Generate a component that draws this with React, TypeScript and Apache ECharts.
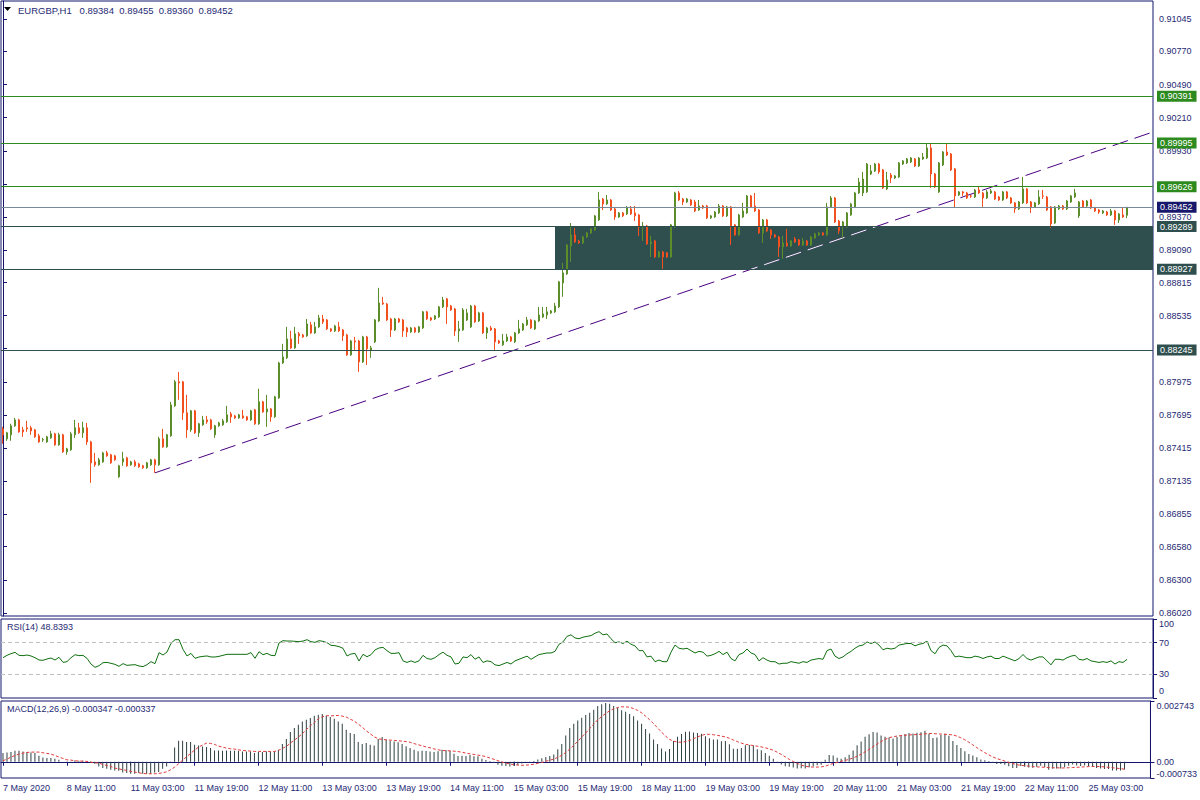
import React, { useEffect, useRef } from 'react';
import * as echarts from 'echarts';

type Bar = [number, number, number, number]; // open, high, low, close

const may07: Bar[] = [
  [0.87577, 0.87594, 0.87451, 0.87527], [0.87493, 0.87552, 0.87476, 0.87544], [0.87527, 0.8762, 0.87476, 0.87603],
  [0.87603, 0.8767, 0.87594, 0.87653], [0.87653, 0.87662, 0.87544, 0.87552],
];
const may08: Bar[] = [
  [0.87569, 0.87594, 0.8751, 0.87552], [0.87586, 0.87645, 0.87552, 0.87577], [0.87586, 0.87603, 0.87527, 0.8756],
  [0.87569, 0.87577, 0.87501, 0.8751], [0.87518, 0.87535, 0.87459, 0.87467], [0.87484, 0.87501, 0.87467, 0.87486],
  [0.87467, 0.87518, 0.87459, 0.8751], [0.87501, 0.8756, 0.87493, 0.87535], [0.87535, 0.87544, 0.87434, 0.87442],
  [0.87442, 0.87544, 0.87434, 0.87527], [0.87527, 0.87535, 0.87374, 0.87383], [0.87383, 0.87417, 0.87358, 0.87408],
  [0.874, 0.87552, 0.87391, 0.87535], [0.87527, 0.87653, 0.87501, 0.87586], [0.87586, 0.87628, 0.87535, 0.87544],
  [0.87544, 0.87637, 0.87501, 0.87586], [0.87586, 0.87628, 0.87442, 0.87467], [0.87467, 0.87476, 0.87121, 0.8729],
  [0.87298, 0.87374, 0.87256, 0.87273], [0.87273, 0.87332, 0.87265, 0.87315], [0.87298, 0.87383, 0.8729, 0.87374],
  [0.87374, 0.87391, 0.87341, 0.87349], [0.87358, 0.87366, 0.87281, 0.8729], [0.87349, 0.87358, 0.87307, 0.87315],
];
const may11: Bar[] = [
  [0.87172, 0.87273, 0.87163, 0.87265], [0.87298, 0.87383, 0.87265, 0.87324], [0.87332, 0.87341, 0.87256, 0.87265],
  [0.87273, 0.87307, 0.87265, 0.87298], [0.87298, 0.87315, 0.87256, 0.87265], [0.87281, 0.8729, 0.87248, 0.87256],
  [0.87265, 0.87273, 0.87239, 0.87248], [0.87248, 0.87298, 0.87239, 0.8729], [0.87273, 0.87324, 0.87265, 0.87315],
  [0.87315, 0.87324, 0.87205, 0.87273], [0.87273, 0.8751, 0.87265, 0.87493], [0.87493, 0.87577, 0.87417, 0.87425],
  [0.87425, 0.87535, 0.87417, 0.87527], [0.87518, 0.87806, 0.8751, 0.8778], [0.87772, 0.87992, 0.87763, 0.87975],
  [0.87975, 0.88059, 0.87823, 0.87966], [0.87975, 0.87983, 0.87653, 0.87713], [0.87713, 0.87865, 0.87501, 0.87569],
  [0.87569, 0.87738, 0.87552, 0.8773], [0.8773, 0.87738, 0.87535, 0.87544], [0.87544, 0.87628, 0.8751, 0.8762],
  [0.87611, 0.87687, 0.87603, 0.87653], [0.87653, 0.87687, 0.8762, 0.87637], [0.87653, 0.87662, 0.87569, 0.87577],
];
const may12: Bar[] = [
  [0.87527, 0.87611, 0.87501, 0.87603], [0.87603, 0.87637, 0.87594, 0.87628], [0.87611, 0.87662, 0.87603, 0.87645],
  [0.87637, 0.87772, 0.87628, 0.87696], [0.87704, 0.87721, 0.87628, 0.87679], [0.87687, 0.87696, 0.87662, 0.8767],
  [0.8767, 0.87704, 0.87662, 0.87696], [0.87687, 0.87738, 0.87662, 0.8767], [0.87679, 0.87687, 0.87645, 0.87653],
  [0.87653, 0.87738, 0.87645, 0.8773], [0.87738, 0.87746, 0.87611, 0.8762], [0.8762, 0.87916, 0.87611, 0.87806],
  [0.87806, 0.87814, 0.87713, 0.87721], [0.87721, 0.87865, 0.87594, 0.87746], [0.87746, 0.87755, 0.87637, 0.87679],
  [0.87679, 0.87856, 0.8767, 0.87848], [0.87839, 0.88144, 0.87831, 0.88135], [0.88135, 0.88296, 0.88127, 0.88186],
  [0.88178, 0.8844, 0.88169, 0.88338], [0.88338, 0.88406, 0.88254, 0.88262], [0.88262, 0.8844, 0.88254, 0.88381],
  [0.88381, 0.88397, 0.88296, 0.88364], [0.88372, 0.88381, 0.88347, 0.88355], [0.88364, 0.88507, 0.88355, 0.88465],
];
const may13: Bar[] = [
  [0.88457, 0.88482, 0.88381, 0.88389], [0.88389, 0.88482, 0.88381, 0.8844], [0.8844, 0.88541, 0.88431, 0.88516],
  [0.88507, 0.88541, 0.88465, 0.88482], [0.88499, 0.88507, 0.88414, 0.88423], [0.88423, 0.88431, 0.88397, 0.88406],
  [0.88406, 0.88457, 0.88397, 0.88448], [0.8844, 0.88482, 0.88397, 0.88406], [0.88414, 0.88423, 0.88321, 0.88364],
  [0.88372, 0.88381, 0.88195, 0.88203], [0.88203, 0.8833, 0.88195, 0.88321], [0.88321, 0.88355, 0.88245, 0.88313],
  [0.88321, 0.8833, 0.88059, 0.88144], [0.88144, 0.88364, 0.88135, 0.88355], [0.88355, 0.88364, 0.88118, 0.88254],
  [0.88245, 0.88279, 0.88178, 0.88262], [0.88313, 0.88507, 0.88304, 0.88499], [0.8849, 0.8877, 0.88482, 0.88643],
  [0.88643, 0.88694, 0.88626, 0.88634], [0.88634, 0.88643, 0.8849, 0.88499], [0.88507, 0.88516, 0.88355, 0.88414],
  [0.88414, 0.88516, 0.88406, 0.88507], [0.88507, 0.88516, 0.88474, 0.88482], [0.88499, 0.88507, 0.88355, 0.88406],
];
const may14: Bar[] = [
  [0.88431, 0.8844, 0.88355, 0.88397], [0.88397, 0.8844, 0.88389, 0.88431], [0.88431, 0.8844, 0.88389, 0.88397],
  [0.88397, 0.88448, 0.88389, 0.8844], [0.88431, 0.88575, 0.88423, 0.88567], [0.88567, 0.88575, 0.88499, 0.88507],
  [0.88516, 0.88524, 0.8849, 0.88499], [0.88507, 0.88541, 0.88499, 0.88533], [0.88524, 0.88617, 0.88516, 0.88609],
  [0.88609, 0.88694, 0.886, 0.88668], [0.88677, 0.88685, 0.88465, 0.88609], [0.88617, 0.88626, 0.88575, 0.88583],
  [0.88592, 0.886, 0.88364, 0.88406], [0.88406, 0.8849, 0.88313, 0.88423], [0.88414, 0.886, 0.88406, 0.88583],
  [0.88499, 0.88592, 0.8849, 0.88558], [0.8844, 0.88626, 0.88431, 0.88617], [0.88617, 0.88626, 0.88474, 0.88482],
  [0.8849, 0.88567, 0.88482, 0.88558], [0.88558, 0.88567, 0.88381, 0.88389], [0.88389, 0.8844, 0.88338, 0.88431],
  [0.88431, 0.88448, 0.88406, 0.88414], [0.88423, 0.88431, 0.88245, 0.88313], [0.88321, 0.8833, 0.88296, 0.88304],
];
const may15: Bar[] = [
  [0.88288, 0.88381, 0.88279, 0.88321], [0.88321, 0.88381, 0.88313, 0.88355], [0.88355, 0.88364, 0.88313, 0.88321],
  [0.88313, 0.88397, 0.88304, 0.88389], [0.88389, 0.88499, 0.88381, 0.88423], [0.88414, 0.88474, 0.88406, 0.88465],
  [0.88457, 0.88524, 0.88448, 0.88499], [0.88499, 0.88507, 0.88423, 0.88431], [0.88423, 0.88499, 0.88414, 0.8849],
  [0.8849, 0.88609, 0.88482, 0.88541], [0.88524, 0.88609, 0.88516, 0.8855], [0.88541, 0.88609, 0.88507, 0.88567],
  [0.88558, 0.88583, 0.8855, 0.88575], [0.88567, 0.88643, 0.88558, 0.88617], [0.88609, 0.88829, 0.886, 0.88821],
  [0.88812, 0.88981, 0.88694, 0.88897], [0.88888, 0.89142, 0.8888, 0.89133], [0.89125, 0.89319, 0.8899, 0.89218],
  [0.89218, 0.89277, 0.8915, 0.89159], [0.89167, 0.89176, 0.89142, 0.8915], [0.8915, 0.8921, 0.89142, 0.89201],
  [0.89201, 0.89243, 0.89193, 0.89235], [0.89235, 0.89277, 0.89226, 0.89269], [0.8926, 0.89387, 0.89252, 0.89379],
];
const may18: Bar[] = [
  [0.89345, 0.89582, 0.89336, 0.89514], [0.89522, 0.89531, 0.89429, 0.8948], [0.8948, 0.89556, 0.89472, 0.89514],
  [0.89514, 0.89522, 0.89421, 0.89429], [0.89438, 0.89446, 0.89345, 0.8937], [0.8937, 0.89412, 0.89362, 0.89404],
  [0.89404, 0.89412, 0.8937, 0.89379], [0.89396, 0.89463, 0.89387, 0.89446], [0.89438, 0.89463, 0.89387, 0.89396],
  [0.89404, 0.89463, 0.89336, 0.89379], [0.89387, 0.89396, 0.8921, 0.89286], [0.89286, 0.89328, 0.89167, 0.89294],
  [0.89294, 0.89303, 0.89133, 0.89142], [0.89142, 0.8921, 0.89032, 0.89159], [0.89167, 0.89176, 0.89024, 0.89032],
  [0.89032, 0.89083, 0.89024, 0.89074], [0.89074, 0.89083, 0.88931, 0.89032], [0.89066, 0.89074, 0.89024, 0.89032],
  [0.89032, 0.89311, 0.89024, 0.89303], [0.89286, 0.89582, 0.89277, 0.89573], [0.89573, 0.8959, 0.89505, 0.89514],
  [0.89522, 0.89531, 0.89472, 0.89497], [0.89497, 0.89531, 0.89489, 0.89522], [0.89514, 0.89522, 0.89463, 0.89472],
];
const may19: Bar[] = [
  [0.89497, 0.89514, 0.89412, 0.89421], [0.89429, 0.89514, 0.89421, 0.89463], [0.89463, 0.89472, 0.89438, 0.89446],
  [0.89463, 0.89472, 0.89353, 0.89362], [0.89362, 0.89387, 0.89353, 0.89379], [0.8937, 0.89421, 0.89362, 0.89412],
  [0.89404, 0.8948, 0.89396, 0.89463], [0.89463, 0.89472, 0.8937, 0.89379], [0.89379, 0.89463, 0.8937, 0.89455],
  [0.89455, 0.89463, 0.89133, 0.89294], [0.89303, 0.89311, 0.8921, 0.89218], [0.89218, 0.89396, 0.8921, 0.89387],
  [0.8937, 0.89489, 0.89362, 0.89421], [0.89404, 0.89556, 0.89396, 0.89548], [0.89548, 0.89556, 0.89446, 0.89455],
  [0.89463, 0.89573, 0.89412, 0.89421], [0.89429, 0.89438, 0.89226, 0.89235], [0.89235, 0.89353, 0.8915, 0.89345],
  [0.89345, 0.89353, 0.89243, 0.89252], [0.8926, 0.89269, 0.89184, 0.89218], [0.89218, 0.89226, 0.89193, 0.89201],
  [0.89201, 0.8921, 0.89032, 0.89117], [0.89117, 0.8921, 0.89015, 0.8915], [0.8915, 0.89269, 0.89117, 0.89125],
];
const may20: Bar[] = [
  [0.89125, 0.89176, 0.89117, 0.89167], [0.89184, 0.89201, 0.8915, 0.89159], [0.89176, 0.89184, 0.89125, 0.89133],
  [0.89133, 0.89193, 0.89125, 0.89167], [0.89167, 0.89176, 0.89125, 0.89133], [0.89133, 0.8921, 0.89125, 0.89201],
  [0.89193, 0.89235, 0.89184, 0.89226], [0.89218, 0.89243, 0.8921, 0.89235], [0.89235, 0.89243, 0.8921, 0.89218],
  [0.89218, 0.89489, 0.8921, 0.89455], [0.89455, 0.89548, 0.89446, 0.89531], [0.89531, 0.89539, 0.89319, 0.89328],
  [0.89336, 0.89345, 0.89226, 0.89252], [0.89286, 0.89336, 0.89193, 0.89328], [0.89286, 0.89412, 0.89277, 0.89404],
  [0.89387, 0.89489, 0.89379, 0.8948], [0.89455, 0.89582, 0.89446, 0.89573], [0.89573, 0.897, 0.89565, 0.89666],
  [0.89573, 0.89751, 0.89548, 0.89691], [0.89582, 0.89827, 0.89573, 0.89818], [0.89734, 0.8981, 0.89725, 0.89759],
  [0.89759, 0.89827, 0.89751, 0.89818], [0.89818, 0.89827, 0.89734, 0.89751], [0.89768, 0.89776, 0.89607, 0.89615],
];
const may21: Bar[] = [
  [0.89607, 0.89751, 0.89598, 0.89683], [0.89725, 0.89742, 0.89658, 0.897], [0.897, 0.89725, 0.89691, 0.89717],
  [0.89708, 0.89835, 0.897, 0.89827], [0.89818, 0.89852, 0.8981, 0.89844], [0.89827, 0.89869, 0.89818, 0.89861],
  [0.89835, 0.89877, 0.89827, 0.89869], [0.89861, 0.89869, 0.89793, 0.89801], [0.89801, 0.89877, 0.89793, 0.89869],
  [0.89861, 0.89911, 0.89852, 0.89877], [0.89869, 0.89996, 0.89861, 0.89954], [0.89954, 0.89996, 0.89615, 0.89734],
  [0.89734, 0.89742, 0.89615, 0.89624], [0.89582, 0.89835, 0.89573, 0.89827], [0.8981, 0.89928, 0.89801, 0.8992],
  [0.8992, 0.89996, 0.89886, 0.89894], [0.89903, 0.89911, 0.89759, 0.89768], [0.89776, 0.89784, 0.89446, 0.89548],
  [0.89556, 0.8959, 0.89548, 0.89582], [0.89582, 0.8959, 0.89548, 0.89573], [0.89573, 0.89582, 0.89522, 0.89531],
  [0.89548, 0.89556, 0.89531, 0.89546], [0.89539, 0.89607, 0.89531, 0.89598], [0.89598, 0.89632, 0.89565, 0.89573],
];
const may22: Bar[] = [
  [0.89573, 0.89582, 0.89455, 0.89531], [0.89531, 0.89598, 0.89522, 0.89582], [0.89573, 0.89607, 0.89565, 0.8959],
  [0.89582, 0.8959, 0.89514, 0.89522], [0.89539, 0.89548, 0.89505, 0.89514], [0.89514, 0.8959, 0.89505, 0.89582],
  [0.89582, 0.8959, 0.89522, 0.89531], [0.89531, 0.89539, 0.8948, 0.89489], [0.89489, 0.89497, 0.89404, 0.89438],
  [0.89438, 0.89505, 0.89429, 0.89497], [0.89489, 0.89708, 0.8948, 0.89607], [0.89607, 0.89615, 0.8948, 0.89489],
  [0.89497, 0.89505, 0.89404, 0.89455], [0.89455, 0.89497, 0.89446, 0.89489], [0.8948, 0.89598, 0.89472, 0.89539],
  [0.89548, 0.89598, 0.89522, 0.89546], [0.89539, 0.89548, 0.89421, 0.89429], [0.89455, 0.89463, 0.89277, 0.89311],
  [0.89319, 0.89463, 0.89311, 0.89455], [0.89438, 0.89472, 0.89429, 0.89463], [0.89463, 0.89472, 0.89429, 0.89438],
  [0.89438, 0.89514, 0.89429, 0.89505], [0.89497, 0.89556, 0.89489, 0.89548], [0.89539, 0.89607, 0.89531, 0.89573],
];
const may25: Bar[] = [
  [0.89379, 0.89505, 0.89362, 0.89497], [0.89505, 0.89514, 0.89446, 0.89455], [0.89463, 0.89514, 0.89455, 0.89505],
  [0.89514, 0.89522, 0.89438, 0.89446], [0.89446, 0.89455, 0.89412, 0.89421], [0.89429, 0.89438, 0.89396, 0.89412],
  [0.89404, 0.89429, 0.89396, 0.89421], [0.89412, 0.89421, 0.89379, 0.89387], [0.89387, 0.89438, 0.89379, 0.89421],
  [0.89421, 0.89429, 0.89303, 0.89345], [0.89345, 0.89404, 0.89319, 0.89396], [0.89387, 0.89446, 0.89362, 0.8937],
  [0.89384, 0.89455, 0.8936, 0.89452],
];

const tradingDays = [
  { name: '7 May', firstHour: 19, bars: may07 },
  { name: '8 May', firstHour: 0, bars: may08 },
  { name: '11 May', firstHour: 0, bars: may11 },
  { name: '12 May', firstHour: 0, bars: may12 },
  { name: '13 May', firstHour: 0, bars: may13 },
  { name: '14 May', firstHour: 0, bars: may14 },
  { name: '15 May', firstHour: 0, bars: may15 },
  { name: '18 May', firstHour: 0, bars: may18 },
  { name: '19 May', firstHour: 0, bars: may19 },
  { name: '20 May', firstHour: 0, bars: may20 },
  { name: '21 May', firstHour: 0, bars: may21 },
  { name: '22 May', firstHour: 0, bars: may22 },
  { name: '25 May', firstHour: 0, bars: may25 },
];
const FIRST_LABEL = '7 May 2020';
const FUTURE_SLOTS = 6;
const LABEL_EVERY = 16;

const rsiValues: number[] = [
  51.0, 54.0, 56.1, 57.8, 54.0, 53.6, 54.4, 53.2, 51.0, 48.1,
  47.7, 49.4, 50.6, 48.1, 51.5, 45.1, 46.0, 51.0, 54.8, 53.6,
  54.0, 50.2, 43.0, 38.8, 40.9, 44.7, 45.1, 43.9, 42.6, 40.1,
  43.5, 41.3, 41.8, 42.2, 40.5, 39.7, 42.2, 46.0, 43.5, 57.4,
  54.4, 58.2, 69.2, 73.8, 73.8, 61.6, 53.2, 56.5, 50.2, 51.9,
  52.7, 53.2, 51.9, 51.9, 52.7, 54.0, 55.3, 55.3, 55.3, 55.3,
  55.3, 55.3, 57.4, 50.2, 58.6, 54.8, 56.5, 54.0, 53.6, 69.6,
  72.6, 72.1, 72.1, 71.7, 71.3, 72.1, 73.8, 71.3, 70.5, 72.6,
  71.7, 70.0, 66.7, 66.2, 65.0, 62.9, 53.2, 55.7, 56.5, 46.8,
  55.3, 52.3, 54.8, 60.8, 63.3, 64.1, 59.9, 56.5, 56.5, 57.4,
  47, 45, 47, 45, 47, 54, 50, 49, 51, 55,
  58, 54, 52, 43, 44, 52, 51, 55, 49, 52,
  45, 47, 46, 42, 41, 43, 45, 43, 47, 49,
  51, 53, 49, 52, 55, 56, 57, 57, 59, 68,
  71, 78, 80, 76, 75, 77, 78, 79, 82, 84,
  80, 81, 75, 70, 71, 69, 72, 68, 66, 60,
  60, 52, 53, 46, 48, 46, 46, 58, 67, 63,
  62, 63, 60, 57, 59, 58, 53, 54, 56, 59,
  55, 58, 50, 47, 55, 57, 62, 57, 55, 47,
  51, 48, 46, 46, 43, 44, 44, 46, 45, 44,
  46, 45, 48, 49, 50, 49, 60, 62, 53, 50,
  52, 56, 59, 63, 66, 67, 71, 69, 71, 67,
  61, 63, 62, 63, 67, 68, 69, 69, 66, 68,
  69, 72, 60, 56, 64, 67, 66, 60, 52, 53,
  52, 51, 51, 53, 52, 50, 52, 53, 50, 50,
  53, 51, 49, 47, 50, 55, 50, 48, 50, 52,
  52, 47, 42, 49, 49, 48, 51, 53, 54, 49,
  48, 50, 47, 46, 45, 46, 45, 47, 43, 46,
  45, 48.8393,
];

const macdValues: number[] = [
  0.000391, 0.000421, 0.000436, 0.000497, 0.000497, 0.000467, 0.000436, 0.000421, 0.000391, 0.000271,
  0.000196, 0.000166, 0.000166, 0.000135, 0.00009, 0.0, -0.00003, 0.000015, 0.00006, 0.000045,
  0.000045, 0.000015, -0.00003, -0.00009, -0.000211, -0.000286, -0.000316, -0.000361, -0.000391, -0.000406,
  -0.000482, -0.000512, -0.000542, -0.000542, -0.000512, -0.000542, -0.000542, -0.000542, -0.000482, -0.000467,
  -0.000316, -0.000211, -0.000015, 0.000647, 0.000948, 0.000948, 0.000888, 0.000888, 0.000768, 0.000737,
  0.000692, 0.000662, 0.000617, 0.000512, 0.000512, 0.000497, 0.000512, 0.000497, 0.000497, 0.000497,
  0.000467, 0.000467, 0.000467, 0.000391, 0.000436, 0.000436, 0.000467, 0.000467, 0.000467, 0.000542,
  0.000798, 0.001023, 0.001339, 0.00152, 0.001671, 0.001821, 0.001896, 0.001972, 0.002077, 0.002122,
  0.002152, 0.002077, 0.002017, 0.001941, 0.001821, 0.001716, 0.001445, 0.001294, 0.001249, 0.000888,
  0.000798, 0.000843, 0.000768, 0.000737, 0.001023, 0.001114, 0.000993, 0.000948, 0.000918, 0.00088,
  0.0008, 0.0007, 0.00062, 0.00054, 0.00048, 0.0005, 0.00049, 0.00046, 0.00044, 0.00048,
  0.00054, 0.00053, 0.0005, 0.00036, 0.00026, 0.00027, 0.00026, 0.00031, 0.00025, 0.00025,
  0.00014, 0.00008, 0.00004, -0.00006, -0.00014, -0.00018, -0.00019, -0.00021, -0.00018, -0.00013,
  -0.00008, -0.00002, -0.00001, 0.00003, 0.0001, 0.00016, 0.00022, 0.00026, 0.00033, 0.00056,
  0.0008, 0.00118, 0.00152, 0.00172, 0.00186, 0.00199, 0.00211, 0.00221, 0.00235, 0.00252,
  0.0026, 0.00265, 0.00262, 0.00252, 0.00243, 0.00233, 0.00226, 0.00216, 0.00205, 0.00186,
  0.00172, 0.00148, 0.00128, 0.00101, 0.0008, 0.0006, 0.00046, 0.00058, 0.00094, 0.00113,
  0.00125, 0.00135, 0.00137, 0.00132, 0.0013, 0.00126, 0.00115, 0.00106, 0.00101, 0.00101,
  0.00093, 0.00094, 0.00079, 0.00059, 0.00059, 0.00062, 0.00075, 0.00076, 0.00073, 0.00056,
  0.00052, 0.0004, 0.00027, 0.00014, -0.00003, -0.00012, -0.0002, -0.00023, -0.00026, -0.0003,
  -0.00029, -0.0003, -0.00025, -0.0002, -0.00016, -0.00014, 0.00009, 0.00031, 0.00028, 0.00018,
  0.00014, 0.0002, 0.00032, 0.00051, 0.00074, 0.00091, 0.00113, 0.00124, 0.00134, 0.00132,
  0.00118, 0.00113, 0.00109, 0.00105, 0.00112, 0.00119, 0.00125, 0.0013, 0.00128, 0.00131,
  0.00133, 0.0014, 0.00127, 0.00107, 0.0011, 0.00121, 0.00126, 0.00117, 0.00094, 0.00076,
  0.00062, 0.00047, 0.00035, 0.00028, 0.0002, 0.0001, 0.00007, 0.00003, -0.00004, -0.0001,
  -0.0001, -0.00014, -0.0002, -0.00028, -0.00028, -0.00019, -0.00022, -0.00026, -0.00027, -0.00022,
  -0.00018, -0.00024, -0.00036, -0.00032, -0.0003, -0.0003, -0.00025, -0.00018, -0.00012, -0.00017,
  -0.00019, -0.00017, -0.0002, -0.00024, -0.00028, -0.0003, -0.00033, -0.00033, -0.0004, -0.00039,
  -0.00039, -0.000347,
];

const signalValues: number[] = [
  0.000045, 0.00012, 0.000211, 0.000286, 0.000346, 0.000391, 0.000421, 0.000436, 0.000436, 0.000436,
  0.000406, 0.000376, 0.000346, 0.000286, 0.000211, 0.00015, 0.00009, 0.000075, 0.000045, 0.00003,
  0.00003, 0.000015, -0.000015, -0.000045, -0.00006, -0.00012, -0.000166, -0.000211, -0.000286, -0.000316,
  -0.000361, -0.000391, -0.000436, -0.000467, -0.000497, -0.000527, -0.000542, -0.000542, -0.000542, -0.000527,
  -0.000497, -0.000452, -0.000361, -0.000241, -0.00009, 0.000075, 0.000226, 0.000376, 0.000527, 0.000662,
  0.000753, 0.000843, 0.000828, 0.000783, 0.000707, 0.000662, 0.000617, 0.000587, 0.000572, 0.000542,
  0.000512, 0.000497, 0.000482, 0.000467, 0.000467, 0.000467, 0.000467, 0.000467, 0.000467, 0.000512,
  0.000602, 0.000692, 0.000843, 0.000978, 0.001114, 0.001264, 0.001445, 0.001625, 0.001761, 0.001941,
  0.002032, 0.002077, 0.002077, 0.002077, 0.002092, 0.002062, 0.002017, 0.001926, 0.001836, 0.001701,
  0.001565, 0.0014, 0.001264, 0.001129, 0.001038, 0.001008, 0.000993, 0.000978, 0.000963, 0.00095,
  0.00093, 0.00091, 0.00088, 0.00082, 0.00077, 0.00072, 0.00067, 0.00063, 0.00058, 0.00054,
  0.00051, 0.0005, 0.00049, 0.00048, 0.00046, 0.00043, 0.00039, 0.00036, 0.00033, 0.0003,
  0.00027, 0.00023, 0.00017, 0.00011, 0.00005, -0.00001, -0.00006, -0.0001, -0.00013, -0.00015,
  -0.00016, -0.00015, -0.00014, -0.00011, -0.00007, -0.00003, 0.00002, 0.00007, 0.00012, 0.0002,
  0.00029, 0.00042, 0.00057, 0.00074, 0.00092, 0.00111, 0.0013, 0.0015, 0.0017, 0.00189,
  0.00204, 0.00218, 0.0023, 0.00239, 0.00245, 0.00248, 0.00248, 0.00246, 0.0024, 0.00232,
  0.00221, 0.00206, 0.0019, 0.00172, 0.00153, 0.00134, 0.00116, 0.00101, 0.00093, 0.00089,
  0.00088, 0.00091, 0.00096, 0.00104, 0.00112, 0.00119, 0.00124, 0.00124, 0.00122, 0.00119,
  0.00116, 0.00112, 0.00106, 0.00098, 0.00091, 0.00084, 0.00079, 0.00076, 0.00073, 0.0007,
  0.00067, 0.00063, 0.00058, 0.00052, 0.00043, 0.00033, 0.00022, 0.00011, 0.00001, -0.00008,
  -0.00015, -0.0002, -0.00023, -0.00024, -0.00024, -0.00023, -0.0002, -0.00014, -0.00008, -0.00003,
  0.00002, 0.00006, 0.00011, 0.00017, 0.00025, 0.00034, 0.00045, 0.00056, 0.00068, 0.0008,
  0.00091, 0.00101, 0.00108, 0.00113, 0.00116, 0.00118, 0.0012, 0.00121, 0.00122, 0.00123,
  0.00124, 0.00126, 0.00128, 0.00127, 0.00126, 0.00125, 0.00124, 0.00123, 0.00121, 0.00116,
  0.00108, 0.00099, 0.00088, 0.00076, 0.00064, 0.00052, 0.00041, 0.00031, 0.00022, 0.00014,
  0.00009, 0.00003, -0.00003, -0.00008, -0.00013, -0.00016, -0.00018, -0.0002, -0.00022, -0.00023,
  -0.00024, -0.00025, -0.00026, -0.00027, -0.00027, -0.00028, -0.00028, -0.00027, -0.00026, -0.00025,
  -0.00024, -0.00023, -0.00022, -0.00021, -0.00021, -0.00022, -0.00023, -0.00025, -0.00027, -0.00029,
  -0.00031, -0.000337,
];

const priceTickMarks = [
  0.91045, 0.9077, 0.9049, 0.9021, 0.8993, 0.8965, 0.8937, 0.8909, 0.88815, 0.88535,
  0.88255, 0.87975, 0.87695, 0.87415, 0.87135, 0.86855, 0.8658, 0.863, 0.8602,
];
const priceTickLabels = [
  0.91045, 0.9077, 0.9049, 0.9021, 0.8993, 0.8937, 0.8909, 0.88815, 0.88535,
  0.87975, 0.87695, 0.87415, 0.87135, 0.86855, 0.8658, 0.863, 0.8602,
];
const priceMin = 0.85994;
const priceMax = 0.91197;
const rsiMin = 0;
const rsiMax = 100;
const rsiTickMarks = [0, 30, 70, 100];
const rsiTickLabels = [30, 70, 100];
const rsiLevels = [30, 70];
const RSI_ZERO_CAPTION = '0';
const macdTicks = [-0.000733, 0, 0.002743];
const macdMin = -0.000733;
const macdMax = 0.002743;

const resistanceLevels = [0.90391, 0.89995, 0.89626];
const supportLevels = [0.89289, 0.88927, 0.88245];
const bidLevel = 0.89452;
const zoneStartBar = 138;
const zoneTop = 0.89289;
const zoneBottom = 0.88927;
const trendStart: [number, number] = [38, 0.87205];
const trendEnd: [number, number] = [287.5, 0.90089];

const FONT = '"Liberation Sans", Arial, sans-serif';
const NAVY = '#14146e';
const TEXT = '#1f2a74';
const UP = '#5b8e2b';
const DOWN = '#f3501f';
const GREEN_LINE = '#2c8a1e';
const SLATE = '#2f4f4f';
const TREND_DASH = [16, 7];

function buildOption() {
  const bars: Bar[] = tradingDays.flatMap((d) => d.bars);
  const categories: string[] = [];
  tradingDays.forEach((d) =>
    d.bars.forEach((_, k) => categories.push(`${d.name} ${String(d.firstHour + k).padStart(2, '0')}:00`))
  );
  for (let k = 0; k < FUTURE_SLOTS; k++) categories.push('');
  const n = bars.length;
  const last = bars[n - 1];
  const f5 = (v: number) => v.toFixed(5);
  const showAt = (idx: number) => idx % LABEL_EVERY === 0 && idx < n;

  // part of the trend line that crosses the dark zone (MetaTrader draws it inverted there)
  const slope = (trendEnd[1] - trendStart[1]) / (trendEnd[0] - trendStart[0]);
  const xAtPrice = (p: number) => trendStart[0] + (p - trendStart[1]) / slope;
  const zoneEnter: [number, number] = [xAtPrice(zoneBottom), zoneBottom];
  const zoneExit: [number, number] = [xAtPrice(zoneTop), zoneTop];

  const levelLabel = (bg: string, v: number) => ({
    show: true,
    position: 'end',
    distance: 4,
    formatter: f5(v),
    backgroundColor: bg,
    color: '#ffffff',
    fontSize: 9,
    fontFamily: FONT,
    lineHeight: 11,
    padding: [0, 4, 0, 3],
  });

  const levelLines = [
    ...resistanceLevels.map((v) => ({ yAxis: v, lineStyle: { color: GREEN_LINE }, label: levelLabel(GREEN_LINE, v) })),
    { yAxis: bidLevel, lineStyle: { color: '#778899' }, label: levelLabel('#17176b', bidLevel) },
    ...supportLevels.map((v) => ({ yAxis: v, lineStyle: { color: SLATE }, label: levelLabel(SLATE, v) })),
  ];

  const axisText = { color: TEXT, fontSize: 9, fontFamily: FONT };
  const captionStyle = { fill: TEXT, fontSize: 9, fontFamily: FONT, verticalAlign: 'middle' };

  return {
    animation: false,
    backgroundColor: '#ffffff',
    textStyle: { fontFamily: FONT },
    grid: [
      { left: 1, top: 1, width: 1152, height: 615, show: true, borderColor: NAVY, borderWidth: 1 },
      { left: 1, top: 619, width: 1152, height: 79, show: true, borderColor: NAVY, borderWidth: 1 },
      { left: 1, top: 701, width: 1152, height: 77, show: true, borderColor: NAVY, borderWidth: 1 },
    ],
    xAxis: [
      { type: 'category', gridIndex: 0, data: categories, show: false },
      { type: 'value', gridIndex: 0, min: -0.5, max: categories.length - 0.5, show: false },
      { type: 'category', gridIndex: 1, data: categories, show: false },
      {
        type: 'category',
        gridIndex: 2,
        data: categories,
        axisLine: { show: true, lineStyle: { color: NAVY } },
        axisTick: { show: true, interval: showAt, alignWithLabel: true, length: 4, lineStyle: { color: NAVY } },
        axisLabel: {
          ...axisText,
          interval: showAt,
          align: 'left',
          margin: 5,
          formatter: (value: string, index: number) => (index === 0 ? FIRST_LABEL : value),
        },
        splitLine: { show: false },
      },
    ],
    yAxis: [
      {
        type: 'value',
        gridIndex: 0,
        position: 'right',
        min: priceMin,
        max: priceMax,
        splitLine: { show: false },
        axisLine: { show: true, lineStyle: { color: NAVY } },
        axisTick: { show: true, customValues: priceTickMarks, length: 4, lineStyle: { color: NAVY } },
        axisLabel: { ...axisText, customValues: priceTickLabels, margin: 6, formatter: (v: number) => f5(v) },
      },
      {
        type: 'value',
        gridIndex: 1,
        position: 'right',
        min: rsiMin,
        max: rsiMax,
        splitLine: { show: false },
        axisLine: { show: true, lineStyle: { color: NAVY } },
        axisTick: { show: true, customValues: rsiTickMarks, length: 4, lineStyle: { color: NAVY } },
        axisLabel: {
          ...axisText,
          customValues: rsiTickLabels,
          margin: 6,
          verticalAlignMaxLabel: 'top',
          formatter: (v: number) => String(Math.round(v)),
        },
      },
      {
        type: 'value',
        gridIndex: 2,
        position: 'right',
        min: macdMin,
        max: macdMax,
        splitLine: { show: false },
        axisLine: { show: true, lineStyle: { color: NAVY } },
        axisTick: { show: true, customValues: macdTicks, length: 4, lineStyle: { color: NAVY } },
        axisLabel: {
          ...axisText,
          customValues: macdTicks,
          margin: 6,
          verticalAlignMinLabel: 'bottom',
          verticalAlignMaxLabel: 'top',
          formatter: (v: number) => (v === 0 ? '0.00' : v.toFixed(6)),
        },
      },
    ],
    series: [
      {
        type: 'line',
        name: 'levels',
        xAxisIndex: 1,
        yAxisIndex: 0,
        data: [[zoneStartBar, zoneTop]],
        symbol: 'none',
        z: 1,
        silent: true,
        markArea: {
          silent: true,
          itemStyle: { color: SLATE, opacity: 1 },
          data: [[{ coord: [zoneStartBar, zoneTop] }, { coord: [categories.length - 0.5, zoneBottom] }]],
        },
        markLine: {
          silent: true,
          symbol: ['none', 'none'],
          precision: 5,
          lineStyle: { width: 1, type: 'solid' },
          data: levelLines,
        },
      },
      {
        type: 'line',
        name: 'trend',
        xAxisIndex: 1,
        yAxisIndex: 0,
        data: [trendStart, trendEnd],
        symbol: 'none',
        z: 2,
        silent: true,
        lineStyle: { color: '#4b0082', width: 1, type: TREND_DASH },
      },
      {
        type: 'line',
        name: 'trend in zone',
        xAxisIndex: 1,
        yAxisIndex: 0,
        data: [zoneEnter, zoneExit],
        symbol: 'none',
        z: 2,
        silent: true,
        lineStyle: { color: '#ffffff', width: 1, type: TREND_DASH, dashOffset: 8.6 },
      },
      {
        type: 'candlestick',
        name: 'EURGBP,H1',
        xAxisIndex: 0,
        yAxisIndex: 0,
        z: 3,
        barWidth: 2,
        data: bars.map((b) => [b[0], b[3], b[2], b[1]]),
        itemStyle: { color: UP, color0: DOWN, borderColor: UP, borderColor0: DOWN, borderWidth: 1 },
      },
      {
        type: 'line',
        name: 'RSI',
        xAxisIndex: 2,
        yAxisIndex: 1,
        data: rsiValues,
        symbol: 'none',
        lineStyle: { color: '#0f700f', width: 1 },
        markLine: {
          silent: true,
          symbol: ['none', 'none'],
          label: { show: false },
          lineStyle: { color: '#c0c0c0', type: [4, 3], width: 1 },
          data: rsiLevels.map((v) => ({ yAxis: v })),
        },
      },
      {
        type: 'bar',
        name: 'MACD',
        xAxisIndex: 3,
        yAxisIndex: 2,
        data: macdValues,
        barWidth: 1,
        itemStyle: { color: '#2f4040' },
      },
      {
        type: 'line',
        name: 'Signal',
        xAxisIndex: 3,
        yAxisIndex: 2,
        data: signalValues,
        symbol: 'none',
        lineStyle: { color: '#e03a3a', width: 1, type: [3, 2] },
      },
    ],
    graphic: {
      elements: [
        { type: 'polygon', shape: { points: [[4, 7], [11, 7], [7.5, 11]] }, style: { fill: '#000000' } },
        {
          type: 'text',
          x: 18,
          y: 10,
          style: {
            ...captionStyle,
            text: `EURGBP,H1   ${f5(last[0])}  ${f5(last[1])}  ${f5(last[2])}  ${f5(last[3])}`,
            fontSize: 9.5,
          },
        },
        {
          type: 'text',
          x: 7,
          y: 627,
          style: { ...captionStyle, text: `RSI(14) ${rsiValues[rsiValues.length - 1].toFixed(4)}` },
        },
        {
          type: 'text',
          x: 7,
          y: 709,
          style: {
            ...captionStyle,
            text: `MACD(12,26,9) ${macdValues[macdValues.length - 1].toFixed(6)} ${signalValues[signalValues.length - 1].toFixed(6)}`,
          },
        },
        // the RSI window's bottom caption, pulled inside the window as MetaTrader does
        {
          type: 'text',
          z: 1000,
          x: 1159,
          y: 686,
          style: { fill: TEXT, fontSize: 9, fontFamily: FONT, text: RSI_ZERO_CAPTION, verticalAlign: 'top' },
        },
      ],
    },
  };
}

export default function App() {
  const ref = useRef<HTMLDivElement>(null);
  useEffect(() => {
    if (!ref.current) return;
    const chart = echarts.init(ref.current, undefined, { renderer: 'svg' });
    chart.setOption(buildOption() as any);
    return () => chart.dispose();
  }, []);
  return (
    <div
      ref={ref}
      style={{ position: 'fixed', left: 0, top: 0, width: 1200, height: 800, background: '#ffffff' }}
    />
  );
}
